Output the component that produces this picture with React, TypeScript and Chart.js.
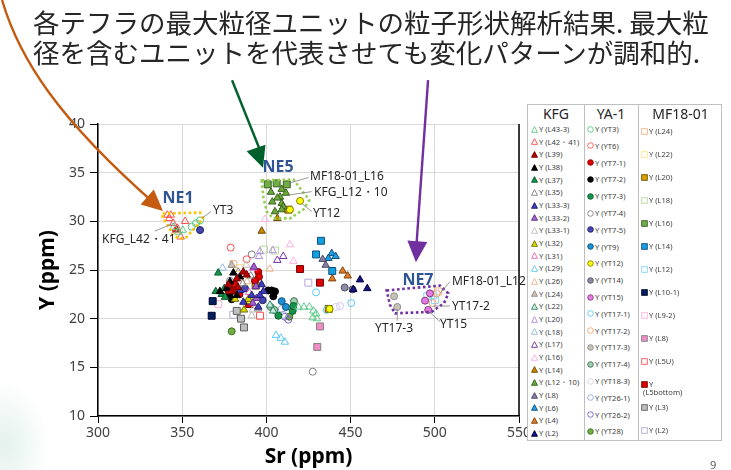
import React, { useEffect, useRef } from 'react';
import { Chart, registerables } from 'chart.js';

Chart.register(...registerables);

type P = [number, number];

// ---------- axis ticks ----------
const SR_TICKS = [300, 350, 400, 450, 500, 550];
const Y_TICKS = [10, 15, 20, 25, 30, 35, 40];

// ---------- KFG (triangles): [Sr, Y] ----------
const KFG_L43_3: P[] = [[347.7, 28.9], [350.3, 29.1], [345.0, 29.4], [419.0, 21.2], [422.3, 21.2], [425.5, 21.2], [427.9, 20.8], [429.5, 20.5], [427.5, 20.1], [430.0, 20.0]];
const KFG_L42_41: P[] = [[341.2, 30.65], [343.2, 30.65], [342.3, 30.3], [344.7, 29.8], [351.7, 30.0], [347.1, 29.3], [349.1, 28.4], [346.3, 29.1]];
const KFG_L39: P[] = [[346.5, 29.2], [386.3, 24.8], [388.3, 24.5], [382.4, 24.1], [377.4, 23.5], [379.4, 22.8], [383.0, 23.2]];
const KFG_L38: P[] = [[380.4, 24.7], [384.3, 24.3], [378.4, 23.8], [376.4, 23.1], [382.4, 22.4], [372.4, 22.8]];
const KFG_L37: P[] = [[371.4, 24.7], [369.9, 22.8], [373.4, 22.5], [375.4, 22.2], [375.0, 23.1]];
const KFG_L35: P[] = [[383.3, 24.8], [390.7, 24.4], [386.0, 23.6]];
const KFG_L33_3: P[] = [[397.2, 23.5], [398.2, 22.8], [396.2, 22.4], [391.3, 22.4], [384.3, 22.9], [395.2, 21.2], [386.3, 21.7]];
const KFG_L33_2: P[] = [[392.6, 25.3], [393.8, 23.3], [394.2, 22.1], [391.9, 21.6]];
const KFG_L33_1: P[] = [[391.3, 20.3], [391.9, 20.9], [388.0, 25.5]];
const KFG_L32: P[] = [[381.4, 22.0], [389.3, 22.0], [386.7, 20.9]];
const KFG_L31: P[] = [[392.2, 25.2], [389.8, 22.7]];
const KFG_L29: P[] = [[405.7, 18.3], [408.5, 18.0], [411.0, 17.6]];
const KFG_L26: P[] = [[388.5, 23.8], [402.0, 25.1]];
const KFG_L24: P[] = [[379.4, 25.5], [395.0, 21.0]];
const KFG_L22: P[] = [[402.1, 21.4], [404.0, 20.8]];
const KFG_L20: P[] = [[396.2, 26.9], [403.7, 27.0], [395.6, 26.4]];
const KFG_L18: P[] = [[374.0, 25.2]];
const KFG_L17: P[] = [[406.5, 26.0], [410.0, 26.4]];
const KFG_L16: P[] = [[414.0, 27.6], [416.0, 25.9], [399.2, 30.2]];
const KFG_L14: P[] = [[397.2, 29.0], [406.5, 30.3]];
const KFG_L12_10: P[] = [[402.7, 33.0], [409.1, 33.3], [411.6, 32.9], [408.1, 32.5], [406.5, 32.4], [403.5, 32.0], [409.1, 31.85], [405.1, 31.0], [410.0, 31.5], [409.1, 31.2]];
const KFG_L8: P[] = [[433.4, 26.1], [435.2, 25.5]];
const KFG_L6: P[] = [[438.8, 26.7], [441.1, 26.4], [436.8, 26.2]];
const KFG_L4: P[] = [[445.3, 24.9], [448.3, 24.4], [439.1, 24.1]];
const KFG_L2: P[] = [[455.6, 24.0], [451.6, 23.0], [459.9, 23.1]];

// ---------- YA-1 (circles) ----------
const YA_YT3: P[] = [[355.6, 29.45], [358.2, 29.8], [360.6, 30.1]];
const YA_YT6: P[] = [[378.8, 27.3], [388.3, 26.1]];
const YA_YT7_1: P[] = [[395.2, 24.8], [395.6, 24.3], [393.2, 23.9], [381.4, 23.5], [377.4, 22.9], [380.4, 22.9], [384.0, 22.5]];
const YA_YT7_2: P[] = [[401.1, 22.9], [403.1, 22.9], [405.1, 22.8], [404.1, 22.3], [379.4, 22.0], [378.0, 22.5]];
const YA_YT7_3: P[] = [[407.1, 20.3], [415.6, 20.8], [416.0, 21.3]];
const YA_YT7_4: P[] = [[391.3, 26.6], [378.4, 23.9], [427.5, 14.55]];
const YA_YT7_5: P[] = [[360.6, 29.1], [387.3, 23.1], [397.8, 21.9]];
const YA_YT9: P[] = [[409.1, 21.8], [411.6, 21.2]];
const YA_YT12: P[] = [[420.0, 32.1], [414.0, 31.2], [389.8, 21.9], [437.5, 21.0]];
const YA_YT14: P[] = [[446.5, 23.2], [451.2, 23.0]];
const YA_YT15: P[] = [[497.1, 22.6], [494.2, 21.85], [496.1, 20.9]];
const YA_YT17_1: P[] = [[429.5, 22.7], [450.4, 21.6], [435.8, 20.9]];
const YA_YT17_2: P[] = [[501.1, 22.6], [498.7, 21.6]];
const YA_YT17_3: P[] = [[475.8, 22.3], [477.7, 21.2]];
const YA_YT17_4: P[] = [[402.6, 21.2], [404.7, 20.9], [416.4, 21.8]];
const YA_YT18_3: P[] = [[441.3, 21.2], [443.7, 21.3]];
const YA_YT26_1: P[] = [[409.1, 21.0], [410.0, 20.4]];
const YA_YT26_2: P[] = [[411.0, 20.2], [413.0, 19.9]];
const YA_YT28: P[] = [[379.4, 18.7], [413.6, 20.2]];

// ---------- MF18-01 (squares) ----------
const MF_L24: P[] = [[380.4, 25.6], [502.0, 22.8]];
const MF_L22: P[] = [[384.0, 25.2]];
const MF_L20: P[] = [[413.0, 31.2], [393.6, 23.4], [437.0, 21.0]];
const MF_L18: P[] = [[398.6, 27.1], [405.1, 27.0]];
const MF_L16: P[] = [[400.8, 33.8], [406.1, 33.9], [412.1, 33.8]];
const MF_L14: P[] = [[432.4, 28.0], [429.5, 26.6], [439.1, 24.9]];
const MF_L12: P[] = [[499.1, 22.4], [495.5, 22.3], [500.1, 21.9]];
const MF_L10_1: P[] = [[368.1, 21.8], [367.5, 20.3]];
const MF_L9_2: P[] = [[371.4, 21.5]];
const MF_L8: P[] = [[431.8, 19.2], [430.2, 17.1]];
const MF_L5U: P[] = [[396.2, 20.3]];
const MF_L5BOTTOM: P[] = [[420.0, 25.1], [431.8, 23.7], [389.8, 21.5]];
const MF_L3: P[] = [[384.9, 20.0], [386.7, 19.1], [382.4, 20.8]];
const MF_L2: P[] = [[424.9, 23.7], [380.4, 20.4]];

// ---------- annotations (data coordinates) ----------
const NE1_OUTLINE: P[] = [[338.4, 30.8], [360.6, 30.9], [362.4, 30.3], [352.7, 28.4], [348.7, 28.2], [344.4, 28.6], [342.3, 29.4], [338.4, 30.3]];
const NE5_OUTLINE: P[] = [[397.2, 34.2], [416.0, 34.3], [420.0, 33.4], [425.5, 32.2], [421.9, 31.2], [414.0, 30.3], [404.1, 30.3], [400.2, 31.0], [398.2, 32.5]];
const NE7_OUTLINE: P[] = [[471.4, 22.9], [503.1, 23.4], [508.0, 22.6], [505.5, 21.6], [498.2, 20.7], [476.4, 20.55], [473.4, 21.4]];

type Shape = 'triangle' | 'circle' | 'rect';
interface Series { group: string; name: string; data: P[]; shape: Shape; fill: string | null; stroke: string }

const T = (name: string, data: P[], fill: string | null, stroke: string): Series => ({ group: 'KFG', name, data, shape: 'triangle', fill, stroke });
const C = (name: string, data: P[], fill: string | null, stroke: string): Series => ({ group: 'YA-1', name, data, shape: 'circle', fill, stroke });
const S = (name: string, data: P[], fill: string | null, stroke: string): Series => ({ group: 'MF18-01', name, data, shape: 'rect', fill, stroke });

const SERIES: Series[] = [
  T('Y (L43-3)', KFG_L43_3, null, '#5CCB88'),
  T('Y (L42・41)', KFG_L42_41, null, '#FF4B4B'),
  T('Y (L39)', KFG_L39, '#C00000', '#6F0000'),
  T('Y (L38)', KFG_L38, '#000000', '#000000'),
  T('Y (L37)', KFG_L37, '#14934A', '#0B5E2C'),
  T('Y (L35)', KFG_L35, null, '#7F7F7F'),
  T('Y (L33-3)', KFG_L33_3, '#3F3FBF', '#1F1F6F'),
  T('Y (L33-2)', KFG_L33_2, '#A763CC', '#5F2F8F'),
  T('Y (L33-1)', KFG_L33_1, null, '#BFBFBF'),
  T('Y (L32)', KFG_L32, '#D8D800', '#6F6F00'),
  T('Y (L31)', KFG_L31, null, '#F060C0'),
  T('Y (L29)', KFG_L29, null, '#5BC8F5'),
  T('Y (L26)', KFG_L26, null, '#F4B183'),
  T('Y (L24)', KFG_L24, '#C9C1B1', '#8F8F8F'),
  T('Y (L22)', KFG_L22, '#CDEBDC', '#2E8B67'),
  T('Y (L20)', KFG_L20, null, '#B38CE0'),
  T('Y (L18)', KFG_L18, null, '#8FB8E0'),
  T('Y (L17)', KFG_L17, null, '#7030A0'),
  T('Y (L16)', KFG_L16, null, '#FFADE3'),
  T('Y (L14)', KFG_L14, '#C88A00', '#6F4A00'),
  T('Y (L12・10)', KFG_L12_10, '#6AAA3A', '#3A5F1F'),
  T('Y (L8)', KFG_L8, '#8A7FA8', '#4A4A6A'),
  T('Y (L6)', KFG_L6, '#1EA0E0', '#0F4F7F'),
  T('Y (L4)', KFG_L4, '#E07B28', '#7F4510'),
  T('Y (L2)', KFG_L2, '#15157F', '#000040'),
  C('Y (YT3)', YA_YT3, null, '#4FC87F'),
  C('Y (YT6)', YA_YT6, null, '#FF5050'),
  C('Y (YT7-1)', YA_YT7_1, '#E00000', '#800000'),
  C('Y (YT7-2)', YA_YT7_2, '#000000', '#000000'),
  C('Y (YT7-3)', YA_YT7_3, '#14934A', '#0B5E2C'),
  C('Y (YT7-4)', YA_YT7_4, null, '#7F7F7F'),
  C('Y (YT7-5)', YA_YT7_5, '#4545B5', '#202060'),
  C('Y (YT9)', YA_YT9, '#1F8FD0', '#0F4F7F'),
  C('Y (YT12)', YA_YT12, '#FFFF00', '#7F7F00'),
  C('Y (YT14)', YA_YT14, '#8F8AA8', '#4F4F5F'),
  C('Y (YT15)', YA_YT15, '#E67AE6', '#7F3F7F'),
  C('Y (YT17-1)', YA_YT17_1, null, '#5BC8F5'),
  C('Y (YT17-2)', YA_YT17_2, null, '#F4A070'),
  C('Y (YT17-3)', YA_YT17_3, '#C8C2B4', '#8F8F8F'),
  C('Y (YT17-4)', YA_YT17_4, '#9CCFB0', '#3F6F4F'),
  C('Y (YT18-3)', YA_YT18_3, null, '#D5C8F0'),
  C('Y (YT26-1)', YA_YT26_1, null, '#8FAADC'),
  C('Y (YT26-2)', YA_YT26_2, null, '#7F5FD0'),
  C('Y (YT28)', YA_YT28, '#70AD47', '#3F6F1F'),
  S('Y (L24)', MF_L24, null, '#F4B183'),
  S('Y (L22)', MF_L22, null, '#FFE38A'),
  S('Y (L20)', MF_L20, '#D9A400', '#6F5000'),
  S('Y (L18)', MF_L18, null, '#B4DC9A'),
  S('Y (L16)', MF_L16, '#70AD47', '#3A5F1F'),
  S('Y (L14)', MF_L14, '#12A0E0', '#0F4F7F'),
  S('Y (L12)', MF_L12, null, '#7FD4F7'),
  S('Y (L10-1)', MF_L10_1, '#002060', '#000030'),
  S('Y (L9-2)', MF_L9_2, null, '#FFB3D9'),
  S('Y (L8)', MF_L8, '#F28CC8', '#7F7F7F'),
  S('Y (L5U)', MF_L5U, null, '#FF5050'),
  S('Y (L5bottom)', MF_L5BOTTOM, '#E00000', '#6F0000'),
  S('Y (L3)', MF_L3, '#BFBFBF', '#5F5F5F'),
  S('Y (L2)', MF_L2, null, '#B4A7D6'),
];

interface Callout { text: string; at: P; from: P; to: P; align: CanvasTextAlign }
const CALLOUTS: Callout[] = [
  { text: 'YT3', at: [368.3, 31.06], from: [361.6, 30.3], to: [367.1, 31.0], align: 'left' },
  { text: 'KFG_L42・41', at: [302.4, 28.1], from: [345.7, 29.86], to: [333.8, 29.0], align: 'left' },
  { text: 'MF18-01_L16', at: [425.9, 34.56], from: [413.0, 33.9], to: [424.9, 34.5], align: 'left' },
  { text: 'KFG_L12・10', at: [428.3, 33.0], from: [413.0, 32.7], to: [426.9, 33.05], align: 'left' },
  { text: 'YT12', at: [427.7, 30.75], from: [421.0, 31.85], to: [426.9, 31.0], align: 'left' },
  { text: 'MF18-01_L12', at: [510.2, 23.8], from: [503.1, 22.6], to: [509.0, 23.8], align: 'left' },
  { text: 'YT17-2', at: [510.2, 21.2], from: [499.1, 21.3], to: [509.0, 21.3], align: 'left' },
  { text: 'YT15', at: [503.1, 19.35], from: [496.7, 20.7], to: [503.1, 19.7], align: 'left' },
  { text: 'YT17-3', at: [475.8, 19.0], from: [477.7, 20.96], to: [477.7, 19.8], align: 'center' },
];

const GROUP_LABELS: { text: string; at: P }[] = [
  { text: 'NE1', at: [347.5, 32.4] },
  { text: 'NE5', at: [406.9, 35.5] },
  { text: 'NE7', at: [490.0, 23.9] },
];

const TITLE_LINES = ['各テフラの最大粒径ユニットの粒子形状解析結果. 最大粒', '径を含むユニットを代表させても変化パターンが調和的.'];

const annotationPlugin = {
  id: 'annot',
  afterDraw(chart: any) {
    const { ctx, chartArea } = chart;
    const xs = chart.scales.x, ys = chart.scales.y;
    const px = (p: P) => [xs.getPixelForValue(p[0]), ys.getPixelForValue(p[1])];
    ctx.save();
    // right frame
    ctx.strokeStyle = '#000';
    ctx.lineWidth = 1.5;
    ctx.beginPath();
    ctx.moveTo(chartArea.right, chartArea.top);
    ctx.lineTo(chartArea.right, chartArea.bottom);
    ctx.stroke();

    const poly = (pts: P[], color: string) => {
      ctx.save();
      ctx.strokeStyle = color;
      ctx.lineWidth = 2.6;
      ctx.setLineDash([2.6, 2.6]);
      ctx.beginPath();
      pts.forEach((p, i) => { const [a, b] = px(p); if (i) ctx.lineTo(a, b); else ctx.moveTo(a, b); });
      ctx.closePath();
      ctx.stroke();
      ctx.restore();
    };
    poly(NE1_OUTLINE, '#FFC000');
    poly(NE5_OUTLINE, '#92D050');
    poly(NE7_OUTLINE, '#7030A0');

    // callouts
    ctx.font = '12px "Noto Sans", sans-serif';
    ctx.fillStyle = '#262626';
    ctx.textBaseline = 'middle';
    CALLOUTS.forEach((c) => {
      const [x1, y1] = px(c.from);
      const [x2, y2] = px(c.to);
      ctx.strokeStyle = '#7F7F7F';
      ctx.lineWidth = 0.8;
      ctx.beginPath(); ctx.moveTo(x1, y1); ctx.lineTo(x2, y2); ctx.stroke();
      const [tx, ty] = px(c.at);
      ctx.textAlign = c.align;
      ctx.fillText(c.text, tx, ty);
    });

    // group labels
    ctx.font = 'bold 16px "Noto Sans", sans-serif';
    ctx.fillStyle = '#2F5597';
    ctx.textAlign = 'center';
    GROUP_LABELS.forEach((g) => { const [a, b] = px(g.at); ctx.fillText(g.text, a, b); });

    // arrows
    const head = (tip: number[], from: number[], color: string) => {
      const ang = Math.atan2(tip[1] - from[1], tip[0] - from[0]);
      const L = 21, W = 10;
      ctx.fillStyle = color;
      ctx.beginPath();
      ctx.moveTo(tip[0], tip[1]);
      ctx.lineTo(tip[0] - L * Math.cos(ang) + W * Math.sin(ang), tip[1] - L * Math.sin(ang) - W * Math.cos(ang));
      ctx.lineTo(tip[0] - L * Math.cos(ang) - W * Math.sin(ang), tip[1] - L * Math.sin(ang) + W * Math.cos(ang));
      ctx.closePath();
      ctx.fill();
    };
    ctx.lineWidth = 2.4;
    // orange (curved)
    const o0 = px([243.0, 52.74]), o1 = px([253.4, 46.58]), o2 = px([277.2, 40.4]), o3 = px([338.6, 31.07]);
    ctx.strokeStyle = '#C55A11';
    ctx.beginPath(); ctx.moveTo(o0[0], o0[1]); ctx.bezierCurveTo(o1[0], o1[1], o2[0], o2[1], o3[0] - 8, o3[1] - 7); ctx.stroke();
    head(o3, o2, '#C55A11');
    // green
    const g0 = px([379.6, 44.5]), g1 = px([398.0, 35.5]);
    ctx.strokeStyle = '#00602B';
    ctx.beginPath(); ctx.moveTo(g0[0], g0[1]); ctx.lineTo(g1[0], g1[1] - 10); ctx.stroke();
    head(g1, g0, '#00602B');
    // purple
    const p0 = px([496.0, 44.5]), p1 = px([488.8, 25.8]);
    ctx.strokeStyle = '#7030A0';
    ctx.beginPath(); ctx.moveTo(p0[0], p0[1]); ctx.lineTo(p1[0], p1[1] - 10); ctx.stroke();
    head(p1, p0, '#7030A0');
    ctx.restore();
  },
};

function Marker({ shape, fill, stroke }: { shape: Shape; fill: string | null; stroke: string }) {
  const f = fill || 'none';
  return (
    <svg width="7" height="7" style={{ display: 'block' }}>
      {shape === 'triangle' && <polygon points="3.5,0.6 6.5,6.3 0.5,6.3" fill={f} stroke={stroke} strokeWidth="0.9" />}
      {shape === 'circle' && <circle cx="3.5" cy="3.5" r="2.8" fill={f} stroke={stroke} strokeWidth="0.9" />}
      {shape === 'rect' && <rect x="0.7" y="0.7" width="5.6" height="5.6" fill={f} stroke={stroke} strokeWidth="0.9" />}
    </svg>
  );
}

const LEGEND_COLS = [
  { group: 'KFG', left: 0, width: 56, start: 24, step: 12.67 },
  { group: 'YA-1', left: 56, width: 54, start: 24, step: 16.8 },
  { group: 'MF18-01', left: 110, width: 85, start: 26, step: 23.0 },
];

function Legend() {
  return (
    <div style={{ position: 'absolute', left: 527, top: 104, width: 195, height: 337, border: '1px solid #BFBFBF', boxSizing: 'border-box', background: '#fff', fontFamily: '"Noto Sans", sans-serif' }}>
      <div style={{ position: 'absolute', left: 56, top: 0, bottom: 0, borderLeft: '1px solid #BFBFBF' }} />
      <div style={{ position: 'absolute', left: 110, top: 0, bottom: 0, borderLeft: '1px solid #BFBFBF' }} />
      {LEGEND_COLS.map((col) => {
        const items = SERIES.filter((s) => s.group === col.group);
        return (
          <div key={col.group}>
            <div style={{ position: 'absolute', left: col.left, width: col.width, top: 0, textAlign: 'center', fontSize: 14, lineHeight: '18px', color: '#262626' }}>{col.group}</div>
            {items.map((s, i) => {
              const top = col.start + i * col.step - 4;
              const isBottom = s.name === 'Y (L5bottom)';
              return (
                <div key={s.name} style={{ position: 'absolute', left: col.left + 3, top, display: 'flex', alignItems: 'flex-start', fontSize: 7.6, lineHeight: '8px', color: '#404040', whiteSpace: 'nowrap' }}>
                  <div style={{ marginTop: 0.5 }}><Marker shape={s.shape} fill={s.fill} stroke={s.stroke} /></div>
                  {isBottom ? (
                    <div style={{ marginLeft: 1 }}>Y<br /><span style={{ marginLeft: -6 }}>(L5bottom)</span></div>
                  ) : (
                    <div style={{ marginLeft: 1 }}>{s.name}</div>
                  )}
                </div>
              );
            })}
          </div>
        );
      })}
    </div>
  );
}

export default function App() {
  const ref = useRef<HTMLCanvasElement>(null);
  useEffect(() => {
    if (!ref.current) return;
    const datasets = SERIES.map((s) => ({
      label: s.name,
      data: s.data.map(([x, y]) => ({ x, y })),
      pointStyle: s.shape,
      pointRadius: s.shape === 'rect' ? 4.9 : s.shape === 'triangle' ? 4.3 : 3.5,
      pointHoverRadius: s.shape === 'rect' ? 4.9 : s.shape === 'triangle' ? 4.3 : 3.5,
      backgroundColor: s.fill || 'rgba(255,255,255,0)',
      borderColor: s.stroke,
      borderWidth: 1,
      showLine: false,
    }));
    const tickFont = { family: '"Noto Sans", sans-serif', size: 14 };
    const chart = new Chart(ref.current, {
      type: 'scatter',
      data: { datasets },
      plugins: [annotationPlugin],
      options: {
        animation: false,
        responsive: false,
        devicePixelRatio: 1,
        layout: { padding: { left: 0, top: 124, right: 212, bottom: 0 } },
        plugins: { legend: { display: false }, tooltip: { enabled: false }, title: { display: false } },
        scales: {
          x: {
            type: 'linear', min: 300, max: 550,
            afterBuildTicks: (sc: any) => { sc.ticks = SR_TICKS.map((v) => ({ value: v })); },
            afterFit: (sc: any) => { sc.height = 54; },
            ticks: { font: tickFont, color: '#404040', padding: 2 },
            grid: { color: '#D9D9D9', lineWidth: 1, tickColor: '#000', tickLength: 7 },
            border: { color: '#000', width: 1.5 },
            title: { display: true, text: 'Sr (ppm)', font: { family: '"Noto Sans", sans-serif', size: 21, weight: 'bold' }, color: '#000', padding: { top: 0, bottom: 0 } },
          },
          y: {
            type: 'linear', min: 10, max: 40,
            afterBuildTicks: (sc: any) => { sc.ticks = Y_TICKS.map((v) => ({ value: v })); },
            afterFit: (sc: any) => { sc.width = 98; },
            ticks: { font: tickFont, color: '#404040', padding: 5 },
            grid: { color: '#D9D9D9', lineWidth: 1, tickColor: '#000', tickLength: 8 },
            border: { color: '#000', width: 1.5 },
            title: { display: true, text: 'Y (ppm)', font: { family: '"Noto Sans", sans-serif', size: 21, weight: 'bold' }, color: '#000', padding: { top: 35, bottom: 0 } },
          },
        },
      } as any,
    });
    return () => chart.destroy();
  }, []);

  return (
    <div style={{ position: 'fixed', left: 0, top: 0, width: 731, height: 470, background: '#fff', overflow: 'hidden' }}>
      <div style={{ position: 'absolute', left: -40, top: 380, width: 90, height: 130, background: 'radial-gradient(ellipse at center, rgba(205,230,222,0.55), rgba(255,255,255,0) 70%)' }} />
      <canvas ref={ref} width={731} height={470} style={{ position: 'absolute', left: 0, top: 0, width: 731, height: 470 }} />
      <div style={{ position: 'absolute', left: 33, top: 7, fontFamily: '"Noto Sans CJK JP", sans-serif', fontSize: 26.5, lineHeight: '30px', color: '#262626', whiteSpace: 'nowrap' }}>
        {TITLE_LINES.map((l) => <div key={l}>{l}</div>)}
      </div>
      <Legend />
      <div style={{ position: 'absolute', left: 710, top: 457, fontFamily: '"Noto Sans", sans-serif', fontSize: 11, color: '#595959' }}>9</div>
    </div>
  );
}
